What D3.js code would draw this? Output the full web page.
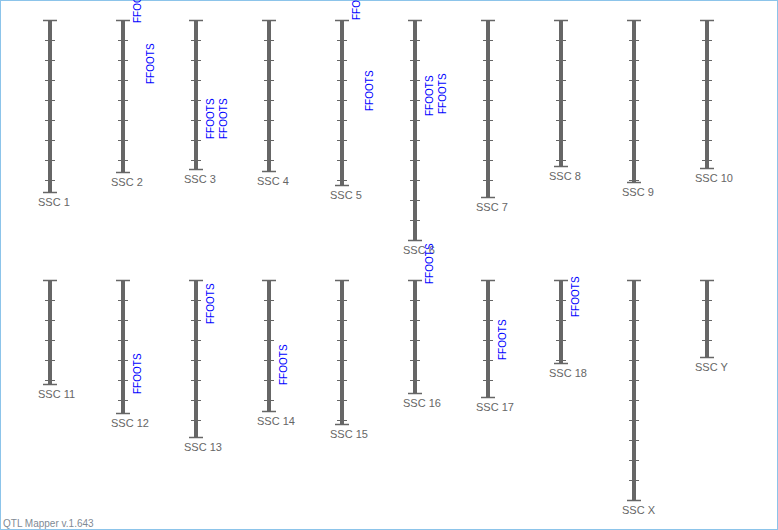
<!DOCTYPE html>
<html><head><meta charset="utf-8">
<script src="https://cdn.jsdelivr.net/npm/d3@7/dist/d3.min.js"></script>
<style>html,body{margin:0;padding:0;background:#fff;} svg{display:block;}</style>
</head><body>
<svg id="c" width="778" height="530"></svg>
<script>
// Chromosomes and their lengths (cM, 1 unit = 1 px on the map)
const chromosomes = ["SSC 1","SSC 2","SSC 3","SSC 4","SSC 5","SSC 6","SSC 7","SSC 8","SSC 9","SSC 10",
                     "SSC 11","SSC 12","SSC 13","SSC 14","SSC 15","SSC 16","SSC 17","SSC 18","SSC X","SSC Y"];
const lengths = [172,152,149,151,165,220,177,146,162,148,
                 104,133,157,131,144,113,117,83,220,77];
// QTL labels
const qtlChrom = ["SSC 2","SSC 2","SSC 3","SSC 3","SSC 5","SSC 5","SSC 6","SSC 6",
                  "SSC 12","SSC 13","SSC 14","SSC 16","SSC 17","SSC 18"];
const qtlPos   = [3,64,119,119,0,91,96,94,114,44,105,4,80,37];
const qtlCol   = [0,1,0,1,0,1,0,1,0,0,0,0,0,0];
const qtlTrait = ["FFOOTS","FFOOTS","FFOOTS","FFOOTS","FFOOTS","FFOOTS","FFOOTS","FFOOTS",
                  "FFOOTS","FFOOTS","FFOOTS","FFOOTS","FFOOTS","FFOOTS"];
const tickStep = 20;
const footer = "QTL Mapper v.1.643";

const W = 778, H = 530;
const svg = d3.select("#c");
const font = "'Liberation Sans', Arial, sans-serif";

svg.append("rect").attr("x",0.5).attr("y",0.5).attr("width",W-1).attr("height",H-1)
   .attr("fill","#fff").attr("stroke","#8cc4ea").attr("stroke-width",1);

const perRow = 10;
const xPos = d3.scalePoint().domain(d3.range(perRow)).range([50, 707]);
const rowTop = d3.scaleOrdinal().domain([0,1]).range([20, 280]);
const y = d3.scaleLinear().domain([0, 300]).range([0, 300]);

const data = chromosomes.map((name,i)=>({name, len: lengths[i], idx:i,
  x: xPos(i % perRow), top: rowTop(Math.floor(i / perRow))}));
const byName = new Map(data.map(d=>[d.name,d]));

const g = svg.selectAll("g.chr").data(data).enter().append("g").attr("class","chr")
  .attr("transform", d=>`translate(${d.x},${d.top})`);

// ticks
g.each(function(d){
  const ticks = d3.range(tickStep, d.len, tickStep);
  d3.select(this).selectAll("line.tick").data(ticks).enter().append("line")
    .attr("x1",-5).attr("x2",5).attr("y1",t=>y(t)+0.5).attr("y2",t=>y(t)+0.5)
    .attr("stroke","#666").attr("stroke-width",1);
});
// bar
g.append("rect").attr("x",-2).attr("y",y(0)).attr("width",4).attr("height",d=>y(d.len))
  .attr("fill","#666");
// caps
g.append("line").attr("x1",-7).attr("x2",7).attr("y1",y(0)+0.5).attr("y2",y(0)+0.5)
  .attr("stroke","#666").attr("stroke-width",1.5);
g.append("line").attr("x1",-7).attr("x2",7).attr("y1",d=>y(d.len)+0.5).attr("y2",d=>y(d.len)+0.5)
  .attr("stroke","#666").attr("stroke-width",1.5);
// labels
g.append("text").attr("x",-12).attr("y",d=>y(d.len)+13.5)
  .attr("font-family",font).attr("font-size","11px").attr("fill","#666")
  .text(d=>d.name);

// QTL labels
const q = qtlChrom.map((c,i)=>({c, pos:qtlPos[i], col:qtlCol[i], trait:qtlTrait[i]}));
svg.selectAll("text.qtl").data(q).enter().append("text").attr("class","qtl")
  .attr("transform", d=>{
    const ch = byName.get(d.c);
    return `translate(${ch.x + 17.5 + 13.5*d.col},${ch.top + y(d.pos)}) rotate(-90)`;
  })
  .attr("font-family",font).attr("font-size","10px").attr("fill","#0000ff")
  .text(d=>d.trait);

svg.append("text").attr("x",3).attr("y",526.5).attr("font-family",font)
  .attr("font-size","10px").attr("fill","#7f8a94").text(footer);
</script>
</body></html>
